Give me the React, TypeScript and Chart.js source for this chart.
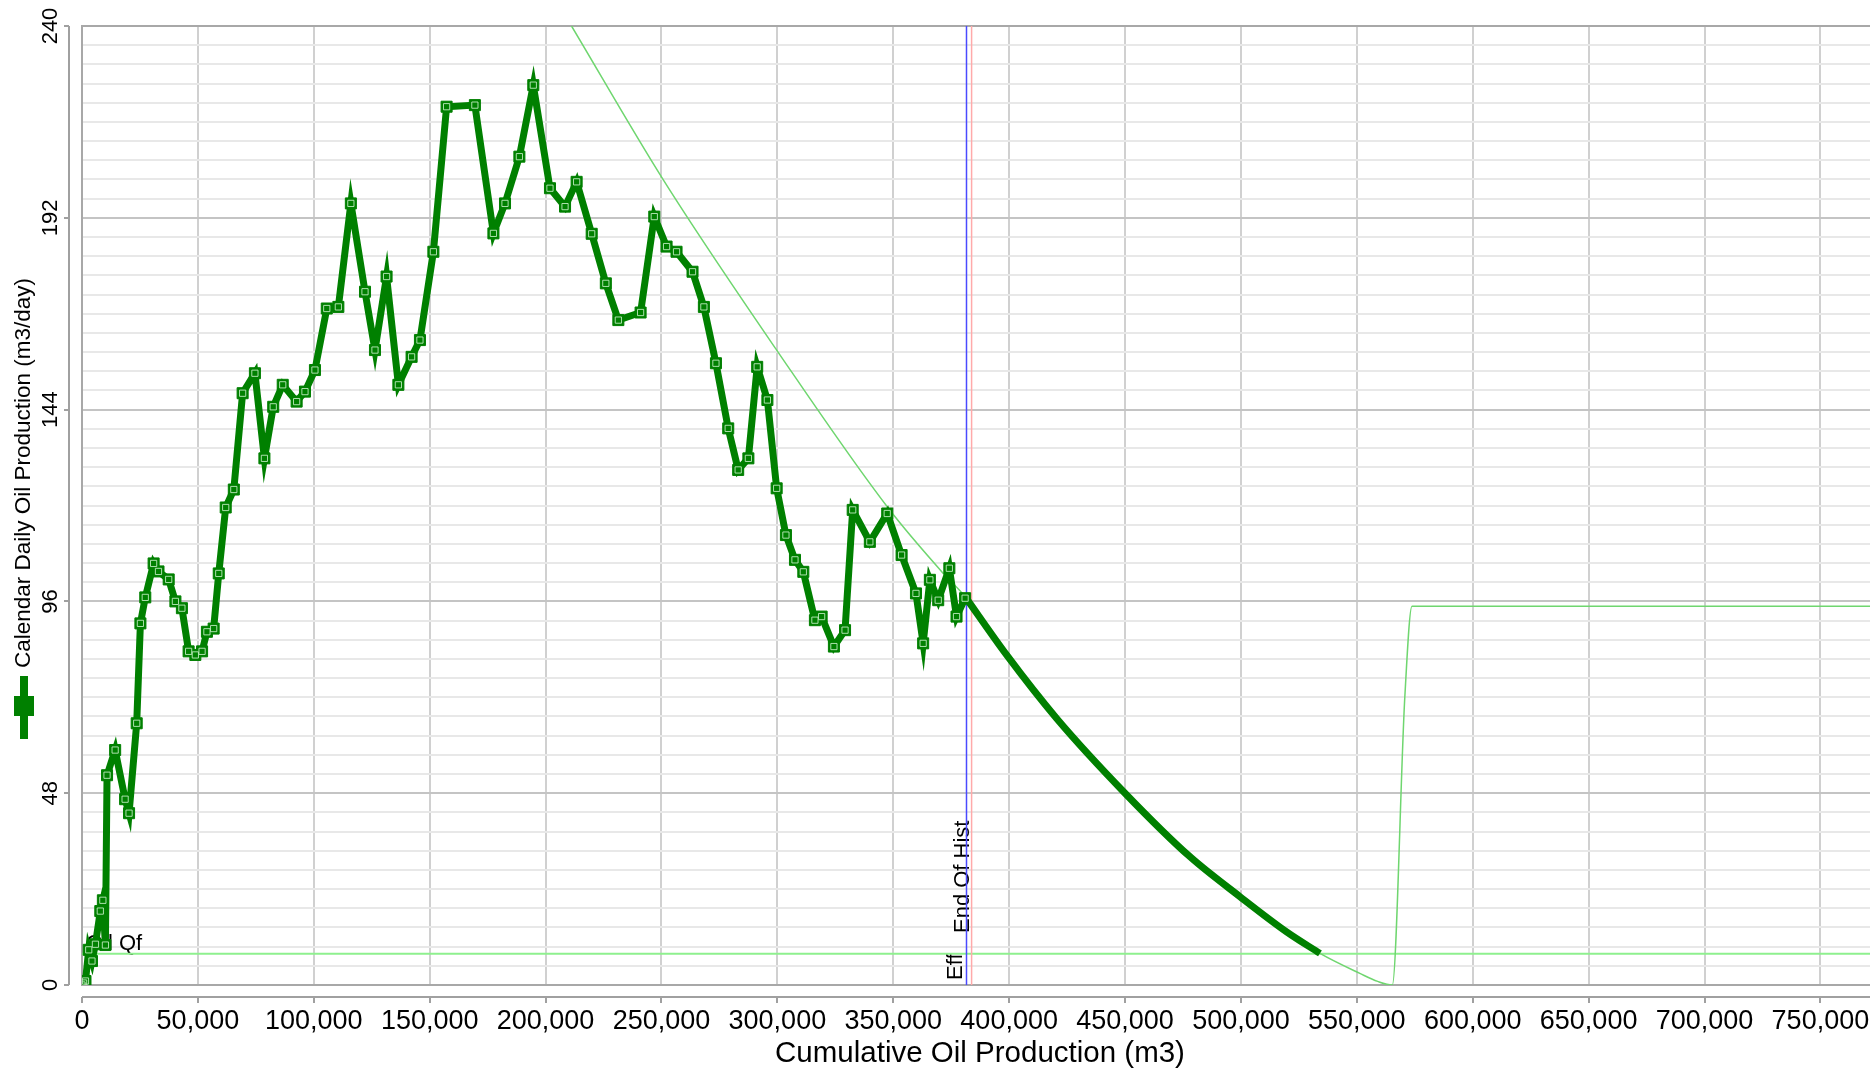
import React, { useEffect, useRef } from "react";
import { Chart, registerables } from "chart.js";

Chart.register(...registerables);

const FONT = '"Liberation Sans", Arial, sans-serif';

// ---- data (cumulative oil m3 vs calendar daily oil rate m3/day) ----
const histCum = [
  0, 700, 1500, 2900, 4300, 5800, 7900, 9000, 10100, 10800,
  14300, 18600, 20300, 23600, 25200, 27300, 30900, 33000, 37400, 40300,
  43100, 46000, 48900, 51800, 53900, 56800, 59000, 62000, 65500, 69300,
  74600, 78700, 82500, 86600, 92600, 96200, 100500, 105600, 110600, 116000,
  122100, 126400, 131400, 136500, 142200, 145800, 151600, 157300, 169500, 177500,
  182500, 188700, 194700, 201900, 208400, 213400, 219900, 226000, 231400, 241000,
  246900, 252200, 256500, 263400, 268300, 273500, 278800, 283100, 287500, 291300,
  295700, 299700, 303700, 307600, 311200, 316200, 319100, 324400, 329200, 332500,
  339900, 347400, 353600, 359800, 362900, 365800, 369400, 374200, 377300, 381000,
];
const histRate = [
  0, 0.5, 1, 8.8, 6, 10.2, 18.5, 21.2, 10, 52.5,
  58.8, 46.5, 43, 65.5, 90.5, 97, 105.5, 103.5, 101.5, 96,
  94.3, 83.5, 82.6, 83.5, 88.4, 89.2, 103, 119.5, 124, 148.1,
  153.1, 131.8, 144.7, 150.2, 146, 148.5, 153.9, 169.3, 169.7, 195.6,
  173.5, 158.9, 177.3, 150.2, 157.2, 161.4, 183.5, 219.8, 220.2, 188.1,
  195.6, 207.3, 225.2, 199.4, 194.8, 201, 188, 175.6, 166.4, 168.3,
  192.3, 184.8, 183.5, 178.5, 169.7, 155.6, 139.3, 128.9, 131.8, 154.7,
  146.4, 124.3, 112.6, 106.4, 103.4, 91.3, 92.2, 84.7, 88.8, 118.9,
  110.9, 118, 107.6, 98, 85.5, 101.4, 96.3, 104.3, 92.2, 96.8,
];

const fcCum = [381000, 398900, 420500, 450000, 478000, 499600, 519700, 534100];
const fcRate = [97.2, 82.6, 66.7, 48.0, 32.1, 22.1, 13.3, 7.9];

const declCum = [
  211200, 250800, 299700, 347900, 371600, 381000, 398900, 420500, 450000, 478000,
  499600, 519700, 534100, 551300, 559000, 565300, 570700, 573800, 771400,
];
const declRate = [
  240, 201.5, 158.9, 119.3, 103, 97.2, 82.6, 66.7, 48, 32.1,
  22.1, 13.3, 7.9, 2.9, 0.9, 0, 72, 94.8, 94.8,
];

const qfRate = 7.8;
const endOfHistCum = 381600;
const effCum = 383800;

const xTickValues = [0, 50000, 100000, 150000, 200000, 250000, 300000, 350000, 400000, 450000, 500000, 550000, 600000, 650000, 700000, 750000];
const yTickValues = [0, 48, 96, 144, 192, 240];
const X_MAX = 771400;
const Y_MINOR_DIV = 10;

const yMinorValues: number[] = [];
for (let i = 0; i < yTickValues.length - 1; i++) {
  const a = yTickValues[i], b = yTickValues[i + 1];
  for (let k = 0; k < Y_MINOR_DIV; k++) yMinorValues.push(a + ((b - a) * k) / Y_MINOR_DIV);
}
yMinorValues.push(yTickValues[yTickValues.length - 1]);

const pts = (xs: number[], ys: number[]) => xs.map((v, i) => ({ x: v, y: ys[i] }));

function rotText(ctx: CanvasRenderingContext2D, text: string, x: number, y: number, align: CanvasTextAlign, baseline: CanvasTextBaseline) {
  ctx.save();
  ctx.translate(x, y);
  ctx.rotate(-Math.PI / 2);
  ctx.textAlign = align;
  ctx.textBaseline = baseline;
  ctx.fillText(text, 0, 0);
  ctx.restore();
}

const decor = {
  id: "decor",
  beforeDatasetsDraw(chart: any) {
    const { ctx, chartArea: a, scales } = chart;
    const x = scales.x, y = scales.y;
    ctx.save();
    ctx.strokeStyle = "#a8a8a8";
    ctx.lineWidth = 2;
    ctx.beginPath();
    ctx.moveTo(a.right + 2, a.top);
    ctx.lineTo(a.left, a.top);
    ctx.lineTo(a.left, a.bottom);
    ctx.lineTo(a.right + 2, a.bottom);
    ctx.stroke();

    ctx.fillStyle = "#000";
    ctx.font = `22px ${FONT}`;
    ctx.textAlign = "left";
    ctx.textBaseline = "alphabetic";
    ctx.fillText("Oil Qf", x.getPixelForValue(0) + 4, y.getPixelForValue(qfRate) - 4);
    rotText(ctx, "End Of Hist", x.getPixelForValue(endOfHistCum) + 3, y.getPixelForValue(0) - 52, "left", "alphabetic");
    rotText(ctx, "Eff", x.getPixelForValue(endOfHistCum) - 4, y.getPixelForValue(0) - 5, "left", "alphabetic");
    ctx.restore();
  },
  afterDraw(chart: any) {
    const { ctx, chartArea: a, scales } = chart;
    const x = scales.x, y = scales.y;
    ctx.save();
    ctx.strokeStyle = "#a0a0a0";
    ctx.lineWidth = 2;
    // y axis (offset from plot)
    const ax = a.left - 13;
    ctx.beginPath();
    ctx.moveTo(ax, a.top);
    ctx.lineTo(ax, a.bottom);
    yTickValues.forEach((v) => {
      const py = Math.round(y.getPixelForValue(v));
      ctx.moveTo(ax - 5, py);
      ctx.lineTo(ax, py);
    });
    // x axis (offset from plot)
    const ay = a.bottom + 12;
    ctx.moveTo(a.left, ay);
    ctx.lineTo(a.right + 2, ay);
    xTickValues.forEach((v) => {
      const px = Math.round(x.getPixelForValue(v));
      ctx.moveTo(px, ay);
      ctx.lineTo(px, ay + 6);
    });
    ctx.stroke();

    ctx.fillStyle = "#000";
    ctx.font = `22px ${FONT}`;
    yTickValues.forEach((v) => {
      rotText(ctx, String(v), 51, y.getPixelForValue(v), "center", "middle");
    });
    ctx.font = `27px ${FONT}`;
    ctx.textAlign = "center";
    ctx.textBaseline = "middle";
    xTickValues.forEach((v) => {
      ctx.fillText(v.toLocaleString("en-US"), x.getPixelForValue(v), 1022);
    });

    ctx.font = `29.5px ${FONT}`;
    ctx.fillText("Cumulative Oil Production (m3)", (a.left + a.right) / 2 + 4, 1054);

    ctx.font = `22.5px ${FONT}`;
    rotText(ctx, "Calendar Daily Oil Production (m3/day)", 24, 473, "center", "middle");

    // series symbol next to axis title
    ctx.fillStyle = "#008000";
    ctx.fillRect(20, 676, 8, 63);
    ctx.fillRect(14, 696, 20, 20);
    ctx.restore();
  },
};

export default function App() {
  const ref = useRef<HTMLCanvasElement | null>(null);

  useEffect(() => {
    if (!ref.current) return;
    const chart = new Chart(ref.current, {
      type: "line",
      data: {
        datasets: [
          {
            label: "Oil Qf",
            data: pts([0, X_MAX], [qfRate, qfRate]),
            borderColor: "#8ef08e",
            borderWidth: 2,
            pointRadius: 0,
            order: 10,
          },
          {
            label: "Decline",
            data: pts(declCum, declRate),
            borderColor: "#6fd66f",
            borderWidth: 1.5,
            pointRadius: 0,
            cubicInterpolationMode: "monotone",
            order: 9,
          },
          {
            label: "Eff",
            data: pts([effCum, effCum], [0, 240]),
            borderColor: "#ffaaaa",
            borderWidth: 1.5,
            pointRadius: 0,
            order: 8,
          },
          {
            label: "End Of Hist",
            data: pts([endOfHistCum, endOfHistCum], [0, 240]),
            borderColor: "#4a4aff",
            borderWidth: 1.5,
            pointRadius: 0,
            order: 7,
          },
          {
            label: "Forecast",
            data: pts(fcCum, fcRate),
            borderColor: "#008000",
            borderWidth: 7,
            pointRadius: 0,
            cubicInterpolationMode: "monotone",
            order: 6,
          },
          {
            label: "Calendar Daily Oil Production",
            data: pts(histCum, histRate),
            borderColor: "#008000",
            borderWidth: 7,
            pointStyle: "rect",
            pointRadius: 7.8,
            pointBackgroundColor: "#008000",
            pointBorderColor: "#008000",
            pointBorderWidth: 1,
            order: 5,
          },
          {
            label: "markers",
            data: pts(histCum, histRate),
            showLine: false,
            pointStyle: "rect",
            pointRadius: 4.4,
            pointBackgroundColor: "rgba(0,0,0,0)",
            pointBorderColor: "rgba(200,240,200,0.85)",
            pointBorderWidth: 1,
            order: 4,
          },
        ],
      },
      options: {
        responsive: false,
        animation: false,
        devicePixelRatio: 1,
        layout: { autoPadding: false, padding: { left: 82, top: 26, right: 0, bottom: 83 } },
        plugins: { legend: { display: false }, tooltip: { enabled: false } },
        scales: {
          x: {
            type: "linear",
            min: 0,
            max: X_MAX,
            afterBuildTicks: (s: any) => {
              s.ticks = xTickValues.map((v) => ({ value: v }));
            },
            ticks: { display: false },
            border: { display: false },
            grid: { color: "#d0d0d0", lineWidth: 2, drawTicks: false },
          },
          y: {
            type: "linear",
            min: 0,
            max: 240,
            afterBuildTicks: (s: any) => {
              s.ticks = yMinorValues.map((v) => ({ value: v }));
            },
            ticks: { display: false },
            border: { display: false },
            grid: {
              drawTicks: false,
              lineWidth: 2,
              color: (c: any) => {
                const v = c.tick ? c.tick.value : 0;
                return yTickValues.some((t) => Math.abs(t - v) < 1e-6) ? "#c4c4c4" : "#e8e8e8";
              },
            },
          },
        },
      },
      plugins: [decor],
    } as any);
    return () => chart.destroy();
  }, []);

  return (
    <div style={{ position: "absolute", left: 0, top: 0, width: 1870, height: 1068, background: "#fff" }}>
      <canvas ref={ref} width={1870} height={1068} style={{ display: "block" }} />
    </div>
  );
}
